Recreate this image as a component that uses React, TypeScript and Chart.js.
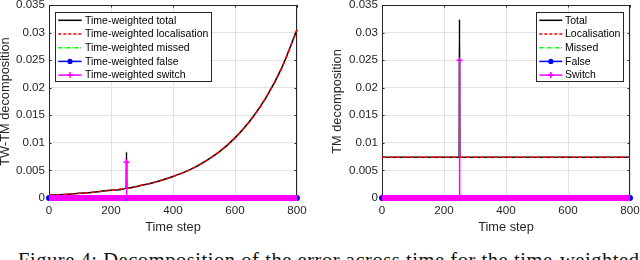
import React, { useEffect, useRef } from "react";
import { Chart, registerables } from "chart.js";

Chart.register(...registerables);

const SANS = "'Liberation Sans', Arial, Helvetica, sans-serif";
const SERIF = "'Liberation Serif', 'Times New Roman', serif";
const AXIS = "#262626";
const GRID = "#e3e3e3";
const BLACK = "#000000";
const RED = "#ff0000";
const GREEN = "#00ff00";
const BLUE = "#0000ff";
const MAGENTA = "#ff00ff";

// Axis ticks
const xTickValues = [0, 200, 400, 600, 800];
const xTickLabels = ["0", "200", "400", "600", "800"];
const yTickValues = [0, 0.005, 0.01, 0.015, 0.02, 0.025, 0.03, 0.035];
const yTickLabels = ["0", "0.005", "0.01", "0.015", "0.02", "0.025", "0.03", "0.035"];

// Left panel: time-weighted TM decomposition
const twTotalSteps = [0, 50, 100, 150, 200, 249, 250, 251, 300, 350, 400, 450, 500, 550, 600, 650, 700, 750, 800];
const twTotal = [0.0005, 0.00065, 0.00084, 0.00108, 0.0014, 0.0018, 0.0083, 0.0018, 0.0023, 0.003, 0.0039, 0.005, 0.0065, 0.0084, 0.0109, 0.0141, 0.0182, 0.0235, 0.0305];
const twLocSteps = [0, 50, 100, 150, 200, 250, 300, 350, 400, 450, 500, 550, 600, 650, 700, 750, 800];
const twLocalisation = [0.0005, 0.00065, 0.00084, 0.00108, 0.0014, 0.0018, 0.0023, 0.003, 0.0039, 0.005, 0.0065, 0.0084, 0.0109, 0.0141, 0.0182, 0.0235, 0.0305];
const twMissedSteps = [0, 800];
const twMissed = [0, 0];
const twFalseSteps = [0, 800];
const twFalse = [0, 0];
const twSwitchSteps = [0, 249, 250, 251, 800];
const twSwitch = [0, 0, 0.0065, 0, 0];

// Right panel: TM decomposition
const tmTotalSteps = [0, 249, 250, 251, 800];
const tmTotal = [0.0074, 0.0074, 0.0324, 0.0074, 0.0074];
const tmLocSteps = [0, 800];
const tmLocalisation = [0.0074, 0.0074];
const tmMissedSteps = [0, 800];
const tmMissed = [0, 0];
const tmFalseSteps = [0, 800];
const tmFalse = [0, 0];
const tmSwitchSteps = [0, 249, 250, 251, 800];
const tmSwitch = [0, 0, 0.025, 0, 0];

const leftLabels = ["Time-weighted total", "Time-weighted localisation", "Time-weighted missed", "Time-weighted false", "Time-weighted switch"];
const rightLabels = ["Total", "Localisation", "Missed", "False", "Switch"];

const CAPTION = "Figure 4: Decomposition of the error across time for the time-weighted";

const pts = (xs: number[], ys: number[]) => xs.map((x, i) => ({ x, y: ys[i] }));

type LegendItem = { color: string; dash: number[]; marker: "" | "dot" | "cross" };
const legendStyles: LegendItem[] = [
  { color: BLACK, dash: [], marker: "" },
  { color: RED, dash: [3, 2], marker: "" },
  { color: GREEN, dash: [4, 1.5, 1, 1.5], marker: "" },
  { color: BLUE, dash: [], marker: "dot" },
  { color: MAGENTA, dash: [], marker: "cross" },
];

const matlabPlugin = {
  id: "matlab",
  beforeDatasetsDraw(chart: any) {
    const { ctx, chartArea: a, scales } = chart;
    ctx.save();
    ctx.strokeStyle = AXIS;
    ctx.lineWidth = 1;
    ctx.strokeRect(a.left + 0.5, a.top + 0.5, a.right - a.left - 1, a.bottom - a.top - 1);
    ctx.beginPath();
    const tl = 2.5;
    xTickValues.forEach((v) => {
      const px = Math.round(scales.x.getPixelForValue(v)) + 0.5;
      ctx.moveTo(px, a.bottom);
      ctx.lineTo(px, a.bottom - tl);
      ctx.moveTo(px, a.top);
      ctx.lineTo(px, a.top + tl);
    });
    yTickValues.forEach((v) => {
      const py = Math.round(scales.y.getPixelForValue(v)) + 0.5;
      ctx.moveTo(a.left, py);
      ctx.lineTo(a.left + tl, py);
      ctx.moveTo(a.right, py);
      ctx.lineTo(a.right - tl, py);
    });
    ctx.stroke();
    ctx.restore();
  },
  afterDraw(chart: any, _args: any, opts: any) {
    const lg = opts && opts.legend;
    if (!lg) return;
    const { ctx } = chart;
    ctx.save();
    ctx.fillStyle = "#ffffff";
    ctx.fillRect(lg.x, lg.y, lg.w, lg.h);
    ctx.strokeStyle = AXIS;
    ctx.lineWidth = 1;
    ctx.strokeRect(lg.x + 0.5, lg.y + 0.5, lg.w - 1, lg.h - 1);
    ctx.font = `10.5px ${SANS}`;
    ctx.textBaseline = "middle";
    ctx.textAlign = "left";
    lg.labels.forEach((label: string, i: number) => {
      const st = legendStyles[i];
      const cy = lg.y + 8.3 + i * 13.7;
      const x0 = lg.x + 3.3;
      const x1 = lg.x + lg.lineW;
      ctx.strokeStyle = st.color;
      ctx.lineWidth = 1.5;
      ctx.setLineDash(st.dash);
      ctx.beginPath();
      ctx.moveTo(x0, cy);
      ctx.lineTo(x1, cy);
      ctx.stroke();
      ctx.setLineDash([]);
      const mx = (x0 + x1) / 2;
      if (st.marker === "dot") {
        ctx.fillStyle = st.color;
        ctx.beginPath();
        ctx.arc(mx, cy, 2.6, 0, Math.PI * 2);
        ctx.fill();
      } else if (st.marker === "cross") {
        ctx.beginPath();
        ctx.moveTo(mx - 3, cy);
        ctx.lineTo(mx + 3, cy);
        ctx.moveTo(mx, cy - 3);
        ctx.lineTo(mx, cy + 3);
        ctx.stroke();
      }
      ctx.fillStyle = BLACK;
      ctx.fillText(label, lg.x + lg.textX, cy + 0.5);
    });
    ctx.restore();
  },
};

type PanelData = {
  totalSteps: number[]; total: number[];
  locSteps: number[]; loc: number[];
  missedSteps: number[]; missed: number[];
  falseSteps: number[]; falseV: number[];
  switchSteps: number[]; switchV: number[];
};

function makeConfig(d: PanelData, labels: string[], yTitle: string, yWidth: number, padRight: number, titlePad: number, titleLH: number, legend: any) {
  return {
    type: "line",
    data: {
      datasets: [
        {
          label: labels[0],
          data: pts(d.totalSteps, d.total),
          borderColor: BLACK,
          borderWidth: 1.5,
          pointRadius: 0,
          cubicInterpolationMode: "monotone",
          clip: false,
          order: 5,
        },
        {
          label: labels[1],
          data: pts(d.locSteps, d.loc),
          borderColor: RED,
          borderWidth: 1.5,
          borderDash: [4, 3],
          pointRadius: 0,
          cubicInterpolationMode: "monotone",
          clip: false,
          order: 4,
        },
        {
          label: labels[2],
          data: pts(d.missedSteps, d.missed),
          borderColor: GREEN,
          borderWidth: 1.5,
          borderDash: [6, 2, 1.5, 2],
          pointRadius: 0,
          clip: false,
          order: 3,
        },
        {
          label: labels[3],
          data: pts(d.falseSteps, d.falseV),
          borderColor: BLUE,
          borderWidth: 6,
          borderCapStyle: "round",
          pointRadius: 0,
          clip: false,
          order: 2,
        },
        {
          label: labels[4],
          data: pts(d.switchSteps, d.switchV),
          borderColor: MAGENTA,
          borderWidth: 1.5,
          segment: {
            borderWidth: (c: any) => (c.p0.parsed.y === 0 && c.p1.parsed.y === 0 ? 6 : 1.5),
          },
          pointStyle: "cross",
          pointRadius: (c: any) => (c.raw && c.raw.y > 0 ? 3 : 0),
          pointBorderWidth: 1.5,
          pointBorderColor: MAGENTA,
          pointBackgroundColor: MAGENTA,
          clip: false,
          order: 1,
        },
      ],
    },
    options: {
      animation: false,
      responsive: false,
      devicePixelRatio: 1,
      events: [],
      layout: { padding: { left: 0, top: 5, right: padRight, bottom: 0 } },
      plugins: {
        legend: { display: false },
        tooltip: { enabled: false },
        matlab: { legend },
      },
      scales: {
        x: {
          type: "linear",
          min: 0,
          max: 800,
          afterBuildTicks: (s: any) => {
            s.ticks = xTickValues.map((v) => ({ value: v }));
          },
          afterFit: (s: any) => {
            s.height = 42;
            s.paddingLeft = 0;
            s.paddingRight = 0;
          },
          grid: { color: GRID, lineWidth: 1, drawTicks: false },
          border: { display: false },
          ticks: {
            padding: 6,
            color: AXIS,
            font: { family: SANS, size: 11.6 },
            maxRotation: 0,
            autoSkip: false,
            callback: (_v: any, i: number) => xTickLabels[i],
          },
          title: {
            display: true,
            text: "Time step",
            color: AXIS,
            font: { family: SANS, size: 12.8, lineHeight: 1.2 },
            padding: { top: 0, bottom: 4.8 },
          },
        },
        y: {
          type: "linear",
          min: 0,
          max: 0.035,
          afterBuildTicks: (s: any) => {
            s.ticks = yTickValues.map((v) => ({ value: v }));
          },
          afterFit: (s: any) => {
            s.width = yWidth;
            s.paddingTop = 0;
            s.paddingBottom = 0;
          },
          grid: { color: GRID, lineWidth: 1, drawTicks: false },
          border: { display: false },
          ticks: {
            padding: 4,
            color: AXIS,
            font: { family: SANS, size: 11.6 },
            autoSkip: false,
            callback: (_v: any, i: number) => yTickLabels[i],
          },
          title: {
            display: true,
            text: yTitle,
            color: AXIS,
            font: { family: SANS, size: 12.8, lineHeight: titleLH },
            padding: { top: titlePad, bottom: 0 },
          },
        },
      },
    },
    plugins: [matlabPlugin],
  };
}

function Panel(props: { config: any; left: number }) {
  const ref = useRef<HTMLCanvasElement | null>(null);
  useEffect(() => {
    if (!ref.current) return;
    const chart = new Chart(ref.current, props.config);
    return () => chart.destroy();
  }, []);
  return (
    <canvas
      ref={ref}
      width={320}
      height={240}
      style={{ position: "absolute", left: props.left, top: 0, width: 320, height: 240 }}
    />
  );
}

export default function App() {
  const leftConfig = makeConfig(
    {
      totalSteps: twTotalSteps, total: twTotal,
      locSteps: twLocSteps, loc: twLocalisation,
      missedSteps: twMissedSteps, missed: twMissed,
      falseSteps: twFalseSteps, falseV: twFalse,
      switchSteps: twSwitchSteps, switchV: twSwitch,
    },
    leftLabels,
    "TW-TM decomposition",
    49,
    23,
    1.2,
    0.6,
    { labels: leftLabels, x: 55, y: 12, w: 157, h: 70, lineW: 26.7, textX: 30 }
  );
  const rightConfig = makeConfig(
    {
      totalSteps: tmTotalSteps, total: tmTotal,
      locSteps: tmLocSteps, loc: tmLocalisation,
      missedSteps: tmMissedSteps, missed: tmMissed,
      falseSteps: tmFalseSteps, falseV: tmFalse,
      switchSteps: tmSwitchSteps, switchV: tmSwitch,
    },
    rightLabels,
    "TM decomposition",
    62,
    10,
    10,
    1.2,
    { labels: rightLabels, x: 216, y: 12, w: 88, h: 70, lineW: 26.3, textX: 29 }
  );
  return (
    <div
      style={{
        position: "fixed",
        left: 0,
        top: 0,
        width: 640,
        height: 260,
        overflow: "hidden",
        background: "#ffffff",
      }}
    >
      <Panel config={leftConfig} left={0} />
      <Panel config={rightConfig} left={320} />
      <div
        style={{
          position: "absolute",
          left: 18,
          top: 249.5,
          whiteSpace: "nowrap",
          fontFamily: SERIF,
          fontSize: 20.5,
          letterSpacing: "0.55px",
          lineHeight: "20.5px",
          color: "#111",
        }}
      >
        {CAPTION}
      </div>
    </div>
  );
}
